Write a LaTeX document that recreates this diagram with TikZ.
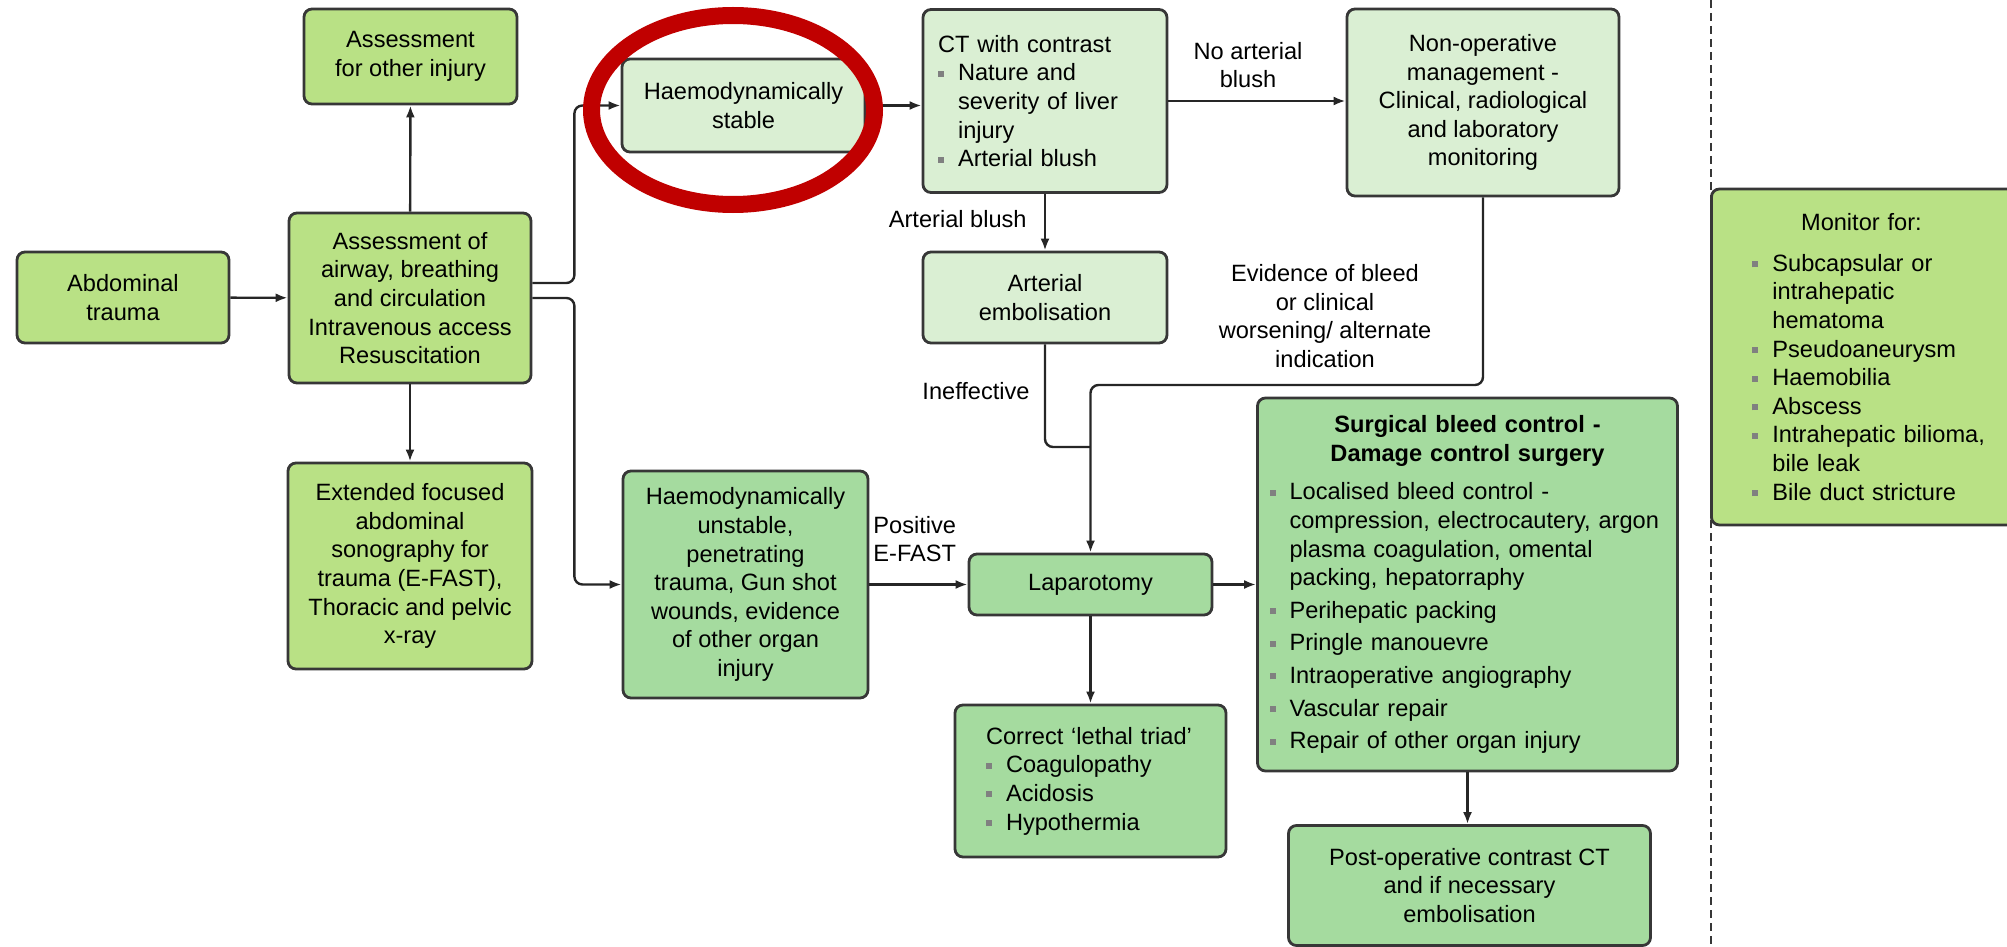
\documentclass[tikz,border=0pt]{standalone}
\usepackage{fontspec}
\setmainfont{Liberation Sans}
\usepackage{tikz}
\usetikzlibrary{positioning,calc,arrows.meta}

\definecolor{limegreen}{RGB}{185,225,133}
\definecolor{palegreen}{RGB}{218,239,211}
\definecolor{midgreen}{RGB}{165,219,159}
\definecolor{boxline}{RGB}{55,55,55}
\definecolor{circred}{RGB}{192,0,0}

\newcommand{\bul}{\makebox[10pt][l]{\textcolor{gray}{\rule[2pt]{3pt}{3pt}}}}
\newcommand{\hang}{\hspace*{10pt}}

\begin{document}
\begin{tikzpicture}[x=0.5pt,y=-0.5pt]
\tikzstyle{main}=[rectangle, rounded corners=4pt, draw=boxline, line width=1.4pt, font=\fontsize{11.8}{14.3}\selectfont, inner sep=2pt, align=center]
\tikzstyle{lime}=[main, fill=limegreen]
\tikzstyle{pale}=[main, fill=palegreen]
\tikzstyle{mid}=[main, fill=midgreen]
\tikzstyle{connect}=[-{Latex[length=6pt,width=4.5pt]}, line width=1.2pt, draw=black!85, rounded corners=4pt]
\tikzstyle{line}=[line width=1.2pt, draw=black!85, rounded corners=4pt]
\tikzstyle{lbl}=[font=\fontsize{11.8}{14.3}\selectfont, align=center, inner sep=0pt]
  \useasboundingbox (0,0) rectangle (2007,947);
  % divider
  \draw[boxline, line width=1.2pt, dash pattern=on 4pt off 2.5pt] (1711,0) -- (1711,947);

  \node[lime, minimum width=106pt, minimum height=45.5pt] (trauma) at (123,297.5) {Abdominal\\trauma};
  \node[lime, minimum width=121pt, minimum height=85pt] (abc) at (410,298) {Assessment of\\airway, breathing\\and circulation\\Intravenous access\\Resuscitation};
  \node[lime, minimum width=106.5pt, minimum height=47.5pt] (other) at (410.5,56.5) {Assessment\\for other injury};
  \node[lime, minimum width=122pt, minimum height=103pt] (efast) at (410,566) {Extended focused\\abdominal\\sonography for\\trauma (E-FAST),\\Thoracic and pelvic\\x-ray};
  \node[pale, minimum width=121.5pt, minimum height=46.5pt] (stable) at (743.5,105.5) {Haemodynamically\\stable};
  \node[pale, text width=107pt, inner xsep=7.5pt, minimum height=91.5pt, align=left] (ct) at (1045,101) {CT with contrast\\\bul Nature and\\\hang severity of liver\\\hang injury\\\bul Arterial blush};
  \node[pale, minimum width=136pt, minimum height=93.5pt] (nonop) at (1483,102.5) {Non-operative\\management -\\Clinical, radiological\\and laboratory\\monitoring};
  \node[pale, minimum width=122pt, minimum height=45.5pt] (embol) at (1045,297.5) {Arterial\\embolisation};
  \node[mid, minimum width=122.5pt, minimum height=113.5pt] (unstable) at (745.5,584.5) {Haemodynamically\\unstable,\\penetrating\\trauma, Gun shot\\wounds, evidence\\of other organ\\injury};
  \node[mid, minimum width=121.5pt, minimum height=30.5pt] (lap) at (1090.5,584.5) {Laparotomy};
  \node[mid, text width=198pt, inner xsep=6pt, minimum height=186.5pt, align=left] (surg) at (1467.5,584.5) {{\centering\bfseries Surgical bleed control -\\Damage control surgery\par}\vspace{5pt}
    \bul Localised bleed control -\\\hang compression, electrocautery, argon\\\hang plasma coagulation, omental\\\hang packing, hepatorraphy\\[2pt]\bul Perihepatic packing\\[2pt]\bul Pringle manouevre\\[2pt]\bul Intraoperative angiography\\[2pt]\bul Vascular repair\\[2pt]\bul Repair of other organ injury\par\vspace{8pt}};
  \node[mid, text width=104.5pt, inner xsep=15.5pt, minimum height=76pt, align=left] (triad) at (1090.5,781) {Correct `lethal triad'\\\bul Coagulopathy\\\bul Acidosis\\\bul Hypothermia};
  \node[mid, minimum width=181pt, minimum height=60pt] (postop) at (1469.5,885.5) {Post-operative contrast CT\\and if necessary\\embolisation};
  \node[lime, anchor=west, text width=125pt, inner xsep=20.5pt, minimum height=168pt, align=left] (monitor) at (1710,357) {\makebox[109pt]{Monitor for:}\par\vspace{6pt}
    \bul Subcapsular or\\\hang intrahepatic\\\hang hematoma\\\bul Pseudoaneurysm\\\bul Haemobilia\\\bul Abscess\\\bul Intrahepatic bilioma,\\\hang bile leak\\\bul Bile duct stricture};

  \node[lbl] (noart) at (1248,65) {No arterial\\blush};
  \node[lbl, anchor=east] (blushlbl) at (1027,219) {Arterial blush};
  \node[lbl, anchor=east] (ineff) at (1030,391) {Ineffective};
  \node[lbl] (evid) at (1325,316) {Evidence of bleed\\or clinical\\worsening/ alternate\\indication};
  \node[lbl, align=left, anchor=west] (posefast) at (873,539) {Positive\\E-FAST};

  \coordinate (merge) at (1090.5,447);
  \coordinate (turn) at (1483,385);

  \path (trauma) edge [connect] (abc)
        (abc) edge [connect] (other)
        (abc) edge [connect] (efast)
        (stable.east) edge [connect] (stable.east -| ct.west)
        (ct.east) edge [connect] (ct.east -| nonop.west)
        (ct) edge [connect] (embol)
        (unstable) edge [connect] (lap)
        (lap) edge [connect] (surg)
        (lap) edge [connect] (triad)
        (surg.south) edge [connect] (surg.south |- postop.north);
  \draw[connect] ([yshift=7.5pt]abc.east) -- ++(21pt,0pt) |- (stable.west);
  \draw[connect] (abc.east) -- ++(21pt,0pt) |- (unstable.west);
  \draw[line] (embol.south) |- (merge);
  \draw[connect] (nonop.south) -- (turn) -| (lap.north);

  % highlight
  \draw[circred, line width=8.5pt] (733,110) ellipse [x radius=70.75pt, y radius=47.25pt];
\end{tikzpicture}
\end{document}
